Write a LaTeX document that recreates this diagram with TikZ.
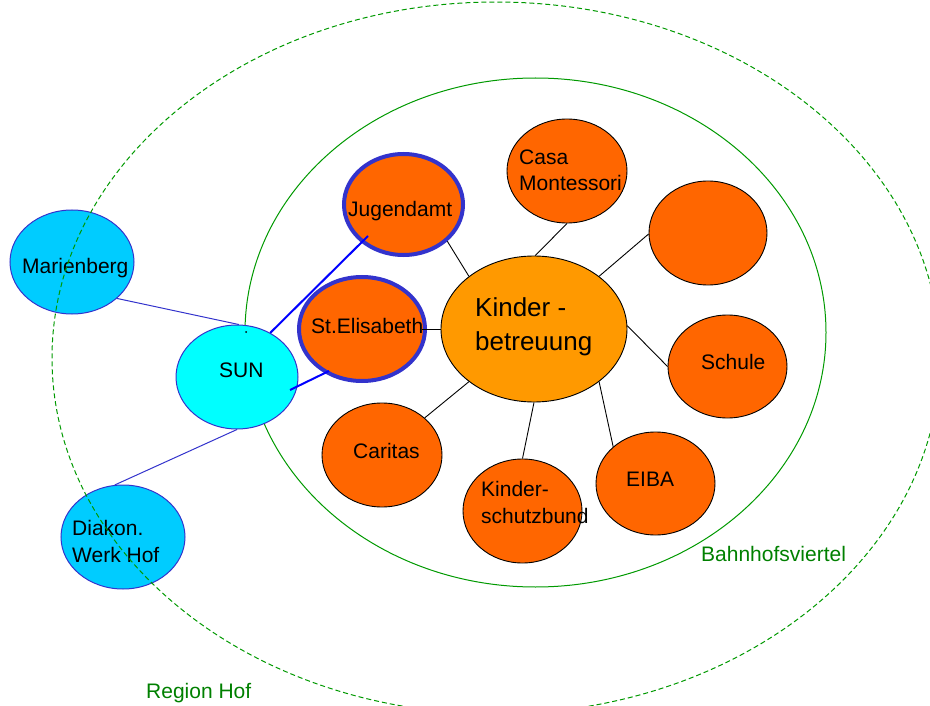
\documentclass[tikz,border=0pt]{standalone}
\usepackage{fontspec}
\setmainfont{Liberation Sans}
\usetikzlibrary{shapes.geometric}
\definecolor{orng}{HTML}{FF6600}
\definecolor{kborng}{HTML}{FF9900}
\definecolor{cyanbub}{HTML}{00FFFF}
\definecolor{ltblue}{HTML}{00CCFF}
\definecolor{bordblue}{HTML}{3333CC}
\definecolor{linkblue}{HTML}{0000FF}
\definecolor{zonegreen}{HTML}{009900}
\definecolor{txtgreen}{HTML}{008000}
\begin{document}
\begin{tikzpicture}[x=1pt,y=-1pt,
  bub/.style={ellipse, draw=black, line width=0.9pt, fill=orng, inner sep=0pt},
  bluebub/.style={ellipse, draw=bordblue, line width=1pt, fill=ltblue, inner sep=0pt},
  thickbub/.style={ellipse, draw=bordblue, line width=4pt, fill=orng, inner sep=0pt},
  lbl/.style={anchor=base west, inner sep=0pt, font=\fontsize{21}{25}\selectfont},
  biglbl/.style={anchor=base west, inner sep=0pt, font=\fontsize{26}{31}\selectfont},
  zonelbl/.style={lbl, text=txtgreen},
  link/.style={draw=black, line width=0.9pt},
  thinblue/.style={draw=bordblue, line width=1pt},
  strongblue/.style={draw=linkblue, line width=2pt},
  zone/.style={draw=zonegreen, line width=1pt},
  region/.style={draw=zonegreen, line width=1pt, dash pattern=on 5pt off 3pt}]
\useasboundingbox (0,0) rectangle (930,706);

% inner zone
\draw[zone] (535.5,332.5) ellipse [x radius=290.5pt, y radius=254.5pt];

% bubbles
\node[bluebub, minimum width=124pt, minimum height=104pt] (mar) at (72,262) {};
\node[bluebub, fill=cyanbub, minimum width=122pt, minimum height=104pt] (sun) at (237,377) {};
\node[bluebub, minimum width=124pt, minimum height=104pt] (dia) at (123,537) {};
\node[thickbub, minimum width=119pt, minimum height=101pt] (jug) at (403.5,204.5) {};
\node[thickbub, minimum width=126pt, minimum height=104pt] (ste) at (362,329) {};
\node[bub, fill=kborng, minimum width=186pt, minimum height=146pt] (kb) at (534,329) {};
\node[bub, minimum width=120pt, minimum height=104pt] (casa) at (567,171) {};
\node[bub, minimum width=118pt, minimum height=104pt] (empty) at (708,233) {};
\node[bub, minimum width=119pt, minimum height=103pt] (sch) at (727.5,366.5) {};
\node[bub, minimum width=119pt, minimum height=103pt] (eiba) at (655.5,483.5) {};
\node[bub, minimum width=119pt, minimum height=104pt] (ksb) at (522.5,511) {};
\node[bub, minimum width=120pt, minimum height=104pt] (car) at (382,455) {};

% texts
\node[lbl] (t-mar) at (22,273) {Marienberg};
\node[lbl] (t-sun) at (219,377) {SUN};
\node[lbl] (t-dia1) at (72,535) {Diakon.};
\node[lbl] (t-dia2) at (72,562) {Werk Hof};
\node[lbl] (t-jug) at (348,217) {Jugendamt};
\node[lbl] (t-ste) at (311,333) {St.Elisabeth};
\node[biglbl] (t-kb1) at (475,316) {Kinder -};
\node[biglbl] (t-kb2) at (475,350) {betreuung};
\node[lbl] (t-casa1) at (519,165) {Casa};
\node[lbl] (t-casa2) at (519,191) {Montessori};
\node[lbl] (t-sch) at (701,369) {Schule};
\node[lbl] (t-eiba) at (626,486) {EIBA};
\node[lbl] (t-ksb1) at (481,496) {Kinder-};
\node[lbl] (t-ksb2) at (481,523) {schutzbund};
\node[lbl] (t-car) at (353,458) {Caritas};
\node[zonelbl] (t-bhf) at (701,561) {Bahnhofsviertel};
\node[zonelbl] (t-reg) at (146,698) {Region Hof};

% black connectors
\draw[link] (jug.-40) -- (kb.141);
\draw[link] (casa.-90) -- (kb.89);
\draw[link] (empty.181) -- (kb.39);
\draw[link] (sch.180) -- (kb.2);
\draw[link] (eiba.139) -- (kb.-39);
\draw[link] (ksb.90) -- (kb.-90);
\draw[link] (car.41) -- (kb.219);
\draw[link] ([xshift=-5pt]ste.east) -- (kb.west);

% blue connectors
\draw[thinblue] (mar.-39) -- (sun.88);
\draw[thinblue] (sun.-90) -- (dia.99);
\coordinate (sunA) at ([shift={(53,13)}]sun.center);
\coordinate (steA) at ([shift={(-33,42)}]ste.center);
\coordinate (jugA) at ([shift={(-35.5,31.5)}]jug.center);
\draw[strongblue] (sun.53) -- (jugA);
\draw[strongblue] (sunA) -- (steA);
\fill (246,332) circle [radius=1pt];

% outer region
\draw[region] (496,358) ellipse [x radius=444pt, y radius=356pt];
\end{tikzpicture}
\end{document}
